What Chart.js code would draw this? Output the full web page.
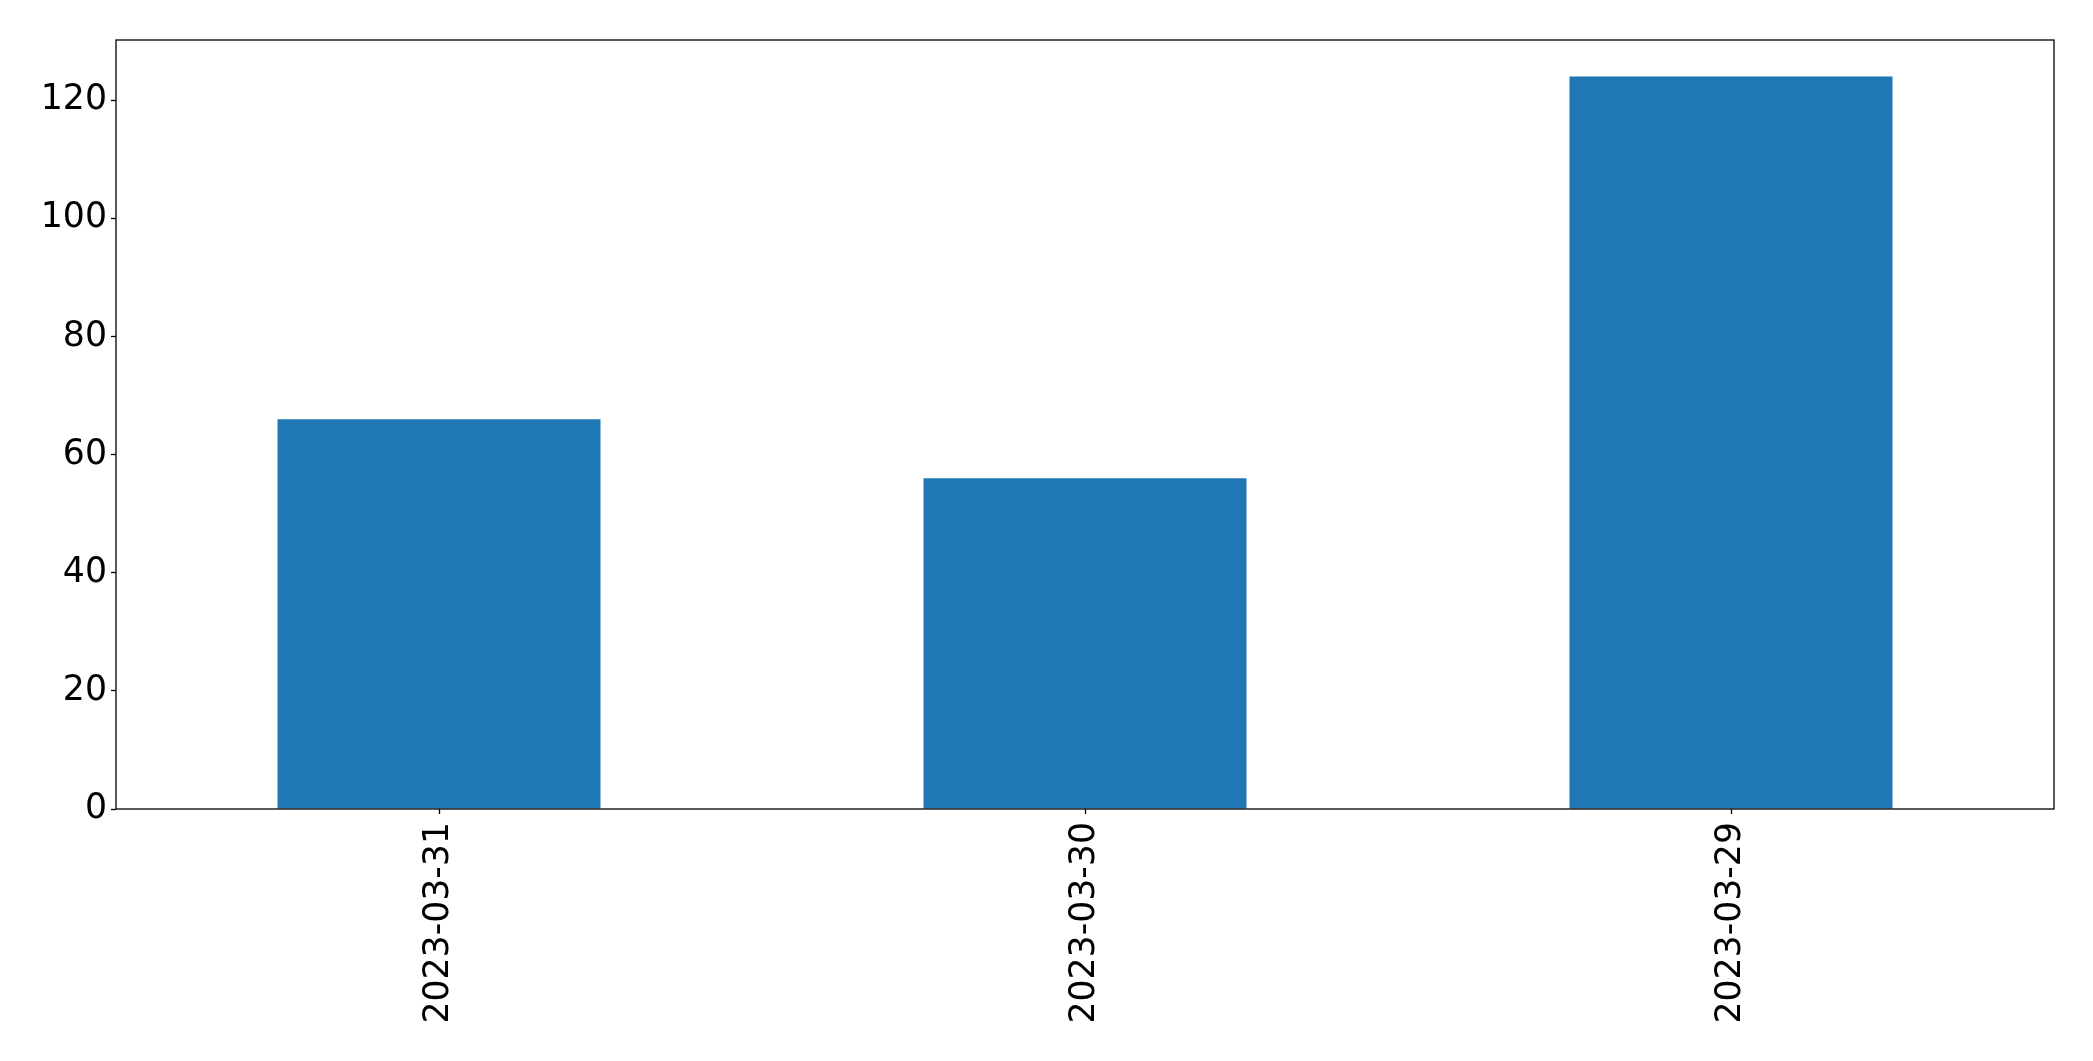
<!DOCTYPE html>
<html>
<head>
<meta charset="utf-8">
<script src="https://cdn.jsdelivr.net/npm/chart.js@4/dist/chart.umd.min.js"></script>
<style>
  html, body { margin: 0; padding: 0; background: #ffffff; }
  #wrap { width: 2093px; height: 1061px; }
</style>
</head>
<body>
<div id="wrap"><canvas id="c" width="2093" height="1061"></canvas></div>
<script>
const categories = ["2023-03-31", "2023-03-30", "2023-03-29"];
const values = [66, 56, 124];
const yTicks = [0, 20, 40, 60, 80, 100, 120];
const yMax = 130.2;

const frame = {
  id: 'frame',
  afterDraw(chart) {
    const a = chart.chartArea, ctx = chart.ctx;
    ctx.save();
    ctx.strokeStyle = '#000';
    ctx.lineWidth = 1.3;
    ctx.strokeRect(a.left, a.top, a.right - a.left, a.bottom - a.top);
    ctx.restore();
  }
};

const font = { family: 'DejaVu Sans', size: 34.7 };

new Chart(document.getElementById('c'), {
  type: 'bar',
  data: {
    labels: categories,
    datasets: [{
      data: values,
      backgroundColor: '#1f77b4',
      borderWidth: 0,
      barPercentage: 0.5,
      categoryPercentage: 1.0
    }]
  },
  options: {
    responsive: false,
    animation: false,
    devicePixelRatio: 1,
    layout: { padding: { top: 40, right: 39, left: 0, bottom: 0 } },
    plugins: { legend: { display: false }, tooltip: { enabled: false } },
    scales: {
      x: {
        offset: true,
        grid: { offset: false, drawOnChartArea: false, drawTicks: true, tickLength: 5, tickColor: '#000', tickWidth: 1.3 },
        border: { display: false },
        ticks: { color: '#000', font: font, maxRotation: 90, minRotation: 90, padding: 8, autoSkip: false },
        afterFit(scale) { scale.height = 1061 - 809; }
      },
      y: {
        min: 0,
        max: yMax,
        grid: { drawOnChartArea: false, drawTicks: true, tickLength: 5, tickColor: '#000', tickWidth: 1.3 },
        border: { display: false },
        ticks: { color: '#000', font: font, padding: 4 },
        afterBuildTicks(scale) { scale.ticks = yTicks.map(v => ({ value: v })); },
        afterFit(scale) { scale.width = 116; }
      }
    }
  },
  plugins: [frame]
});
</script>
</body>
</html>
